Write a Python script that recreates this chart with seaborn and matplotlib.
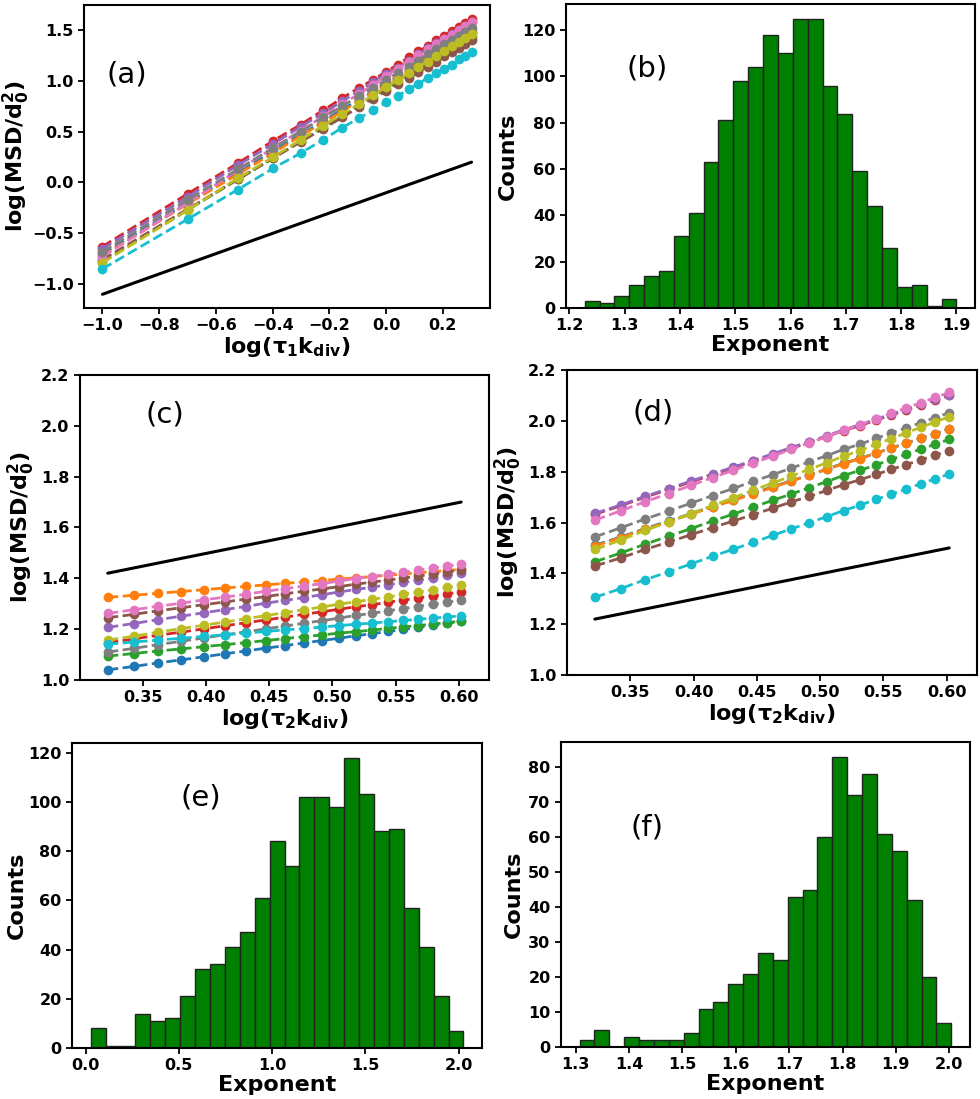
import numpy as np
import pandas as pd
import matplotlib
matplotlib.use("Agg")
import matplotlib.pyplot as plt
import seaborn as sns

# --- data ------------------------------------------------------------------
# delay times (tau * k_div) of the MSD curves
tau1 = [0.1, 0.2, 0.3, 0.4, 0.5, 0.6, 0.7, 0.8, 0.9, 1.0,
        1.1, 1.2, 1.3, 1.4, 1.5, 1.6, 1.7, 1.8, 1.9, 2.0]
tau2 = [2.1, 2.2, 2.3, 2.4, 2.5, 2.6, 2.7, 2.8, 2.9, 3.0,
        3.1, 3.2, 3.3, 3.4, 3.5, 3.6, 3.7, 3.8, 3.9, 4.0]

# panel (a): log(MSD/d0^2), one list per trajectory (tab10 order)
msd_a = [
    [-0.70, -0.20, 0.10, 0.31, 0.47, 0.60, 0.72, 0.81, 0.90, 0.98, 1.04, 1.11, 1.17, 1.22, 1.27, 1.32, 1.36, 1.40, 1.44, 1.48],
    [-0.72, -0.21, 0.08, 0.29, 0.46, 0.59, 0.70, 0.80, 0.89, 0.96, 1.03, 1.10, 1.16, 1.21, 1.26, 1.31, 1.35, 1.39, 1.43, 1.47],
    [-0.78, -0.27, 0.03, 0.24, 0.41, 0.54, 0.66, 0.75, 0.84, 0.92, 0.99, 1.05, 1.11, 1.17, 1.22, 1.26, 1.31, 1.35, 1.39, 1.43],
    [-0.63, -0.11, 0.19, 0.41, 0.57, 0.71, 0.83, 0.93, 1.01, 1.09, 1.16, 1.23, 1.29, 1.34, 1.40, 1.44, 1.49, 1.53, 1.57, 1.61],
    [-0.65, -0.14, 0.17, 0.38, 0.55, 0.68, 0.80, 0.90, 0.99, 1.07, 1.13, 1.20, 1.26, 1.32, 1.37, 1.41, 1.46, 1.50, 1.54, 1.58],
    [-0.76, -0.26, 0.03, 0.24, 0.40, 0.53, 0.64, 0.74, 0.82, 0.90, 0.97, 1.03, 1.09, 1.14, 1.19, 1.24, 1.28, 1.32, 1.36, 1.40],
    [-0.73, -0.20, 0.12, 0.34, 0.51, 0.65, 0.77, 0.87, 0.96, 1.05, 1.12, 1.19, 1.25, 1.31, 1.36, 1.41, 1.45, 1.50, 1.54, 1.58],
    [-0.68, -0.17, 0.13, 0.34, 0.50, 0.64, 0.75, 0.85, 0.93, 1.01, 1.08, 1.14, 1.20, 1.26, 1.31, 1.36, 1.40, 1.44, 1.48, 1.52],
    [-0.79, -0.27, 0.04, 0.25, 0.42, 0.56, 0.67, 0.77, 0.86, 0.94, 1.01, 1.08, 1.14, 1.19, 1.24, 1.29, 1.34, 1.38, 1.42, 1.46],
    [-0.85, -0.36, -0.07, 0.14, 0.29, 0.42, 0.54, 0.63, 0.71, 0.79, 0.85, 0.92, 0.97, 1.03, 1.08, 1.12, 1.16, 1.21, 1.24, 1.28],
]

# panel (c)
msd_c = [
    [1.040, 1.053, 1.067, 1.079, 1.091, 1.103, 1.114, 1.125, 1.135, 1.145, 1.155, 1.164, 1.174, 1.182, 1.191, 1.199, 1.207, 1.215, 1.223, 1.230],
    [1.325, 1.333, 1.341, 1.348, 1.355, 1.362, 1.368, 1.374, 1.380, 1.386, 1.391, 1.397, 1.402, 1.407, 1.412, 1.417, 1.422, 1.426, 1.431, 1.435],
    [1.094, 1.104, 1.114, 1.122, 1.131, 1.139, 1.147, 1.155, 1.163, 1.170, 1.177, 1.184, 1.190, 1.196, 1.203, 1.209, 1.214, 1.220, 1.226, 1.231],
    [1.147, 1.161, 1.176, 1.188, 1.201, 1.213, 1.225, 1.236, 1.247, 1.258, 1.268, 1.278, 1.288, 1.296, 1.306, 1.314, 1.323, 1.331, 1.339, 1.347],
    [1.207, 1.222, 1.237, 1.251, 1.264, 1.277, 1.289, 1.302, 1.313, 1.324, 1.335, 1.346, 1.356, 1.365, 1.375, 1.384, 1.393, 1.402, 1.411, 1.419],
    [1.245, 1.258, 1.272, 1.284, 1.296, 1.307, 1.318, 1.328, 1.339, 1.349, 1.358, 1.367, 1.377, 1.385, 1.393, 1.401, 1.409, 1.417, 1.425, 1.432],
    [1.262, 1.276, 1.290, 1.302, 1.315, 1.326, 1.337, 1.349, 1.359, 1.369, 1.379, 1.389, 1.399, 1.407, 1.416, 1.424, 1.433, 1.441, 1.448, 1.456],
    [1.110, 1.124, 1.139, 1.152, 1.165, 1.178, 1.189, 1.201, 1.212, 1.223, 1.233, 1.243, 1.254, 1.262, 1.272, 1.281, 1.289, 1.298, 1.306, 1.314],
    [1.157, 1.172, 1.188, 1.202, 1.215, 1.228, 1.241, 1.253, 1.265, 1.276, 1.287, 1.298, 1.308, 1.317, 1.327, 1.337, 1.346, 1.355, 1.364, 1.372],
    [1.141, 1.149, 1.157, 1.164, 1.171, 1.178, 1.184, 1.191, 1.197, 1.202, 1.208, 1.214, 1.219, 1.224, 1.229, 1.234, 1.239, 1.243, 1.248, 1.252],
]

# panel (d)
msd_d = [
    [1.511, 1.543, 1.576, 1.606, 1.635, 1.663, 1.689, 1.715, 1.740, 1.764, 1.787, 1.810, 1.833, 1.852, 1.873, 1.893, 1.913, 1.932, 1.950, 1.968],
    [1.508, 1.541, 1.574, 1.603, 1.633, 1.661, 1.687, 1.713, 1.738, 1.763, 1.786, 1.809, 1.832, 1.851, 1.873, 1.893, 1.912, 1.932, 1.950, 1.968],
    [1.446, 1.480, 1.515, 1.546, 1.576, 1.606, 1.633, 1.661, 1.687, 1.712, 1.737, 1.761, 1.785, 1.805, 1.827, 1.848, 1.869, 1.889, 1.908, 1.927],
    [1.633, 1.666, 1.700, 1.730, 1.760, 1.788, 1.815, 1.841, 1.867, 1.892, 1.915, 1.938, 1.962, 1.981, 2.003, 2.023, 2.043, 2.063, 2.082, 2.100],
    [1.636, 1.669, 1.703, 1.733, 1.763, 1.791, 1.818, 1.844, 1.870, 1.895, 1.918, 1.941, 1.965, 1.984, 2.006, 2.026, 2.046, 2.066, 2.085, 2.103],
    [1.429, 1.461, 1.494, 1.523, 1.552, 1.580, 1.606, 1.631, 1.656, 1.681, 1.703, 1.726, 1.749, 1.768, 1.789, 1.809, 1.828, 1.847, 1.865, 1.883],
    [1.610, 1.646, 1.682, 1.714, 1.746, 1.777, 1.805, 1.834, 1.861, 1.888, 1.913, 1.938, 1.963, 1.985, 2.008, 2.030, 2.051, 2.072, 2.092, 2.112],
    [1.544, 1.579, 1.614, 1.645, 1.676, 1.706, 1.734, 1.762, 1.788, 1.814, 1.839, 1.863, 1.888, 1.908, 1.931, 1.952, 1.973, 1.993, 2.013, 2.032],
    [1.494, 1.531, 1.569, 1.602, 1.635, 1.667, 1.697, 1.727, 1.755, 1.783, 1.809, 1.835, 1.861, 1.883, 1.908, 1.930, 1.953, 1.975, 1.996, 2.016],
    [1.306, 1.340, 1.375, 1.406, 1.437, 1.467, 1.495, 1.522, 1.549, 1.575, 1.599, 1.623, 1.647, 1.668, 1.691, 1.711, 1.732, 1.753, 1.772, 1.791],
]

# slope-1 guide lines (end points)
guide_a_x, guide_a_y = [-1.0, 0.301], [-1.10, 0.20]
guide_c_x, guide_c_y = [0.322, 0.602], [1.42, 1.70]
guide_d_x, guide_d_y = [0.322, 0.602], [1.22, 1.50]

# exponent histograms: bin range + counts
hist_b_range = (1.2277, 1.900)
hist_b_counts = [3, 2, 5, 10, 14, 16, 31, 41, 63, 81, 98, 104, 118, 110, 125,
                 125, 96, 84, 59, 44, 26, 9, 10, 1, 4]
hist_e_range = (0.027, 2.025)
hist_e_counts = [8, 1, 1, 14, 11, 12, 21, 32, 34, 41, 47, 61, 84, 74, 102,
                 102, 98, 118, 103, 88, 89, 57, 41, 21, 7]
hist_f_range = (1.307, 2.004)
hist_f_counts = [2, 5, 0, 3, 2, 2, 2, 4, 11, 13, 18, 21, 27, 25, 43,
                 45, 60, 83, 72, 78, 61, 56, 42, 20, 7]

# --- style ------------------------------------------------------------------
sns.set_style("ticks")
plt.rcParams["font.family"] = ["DejaVu Sans"]
plt.rcParams["font.weight"] = "bold"
plt.rcParams["axes.labelweight"] = "bold"
plt.rcParams["mathtext.fontset"] = "dejavusans"
plt.rcParams["mathtext.default"] = "bf"
plt.rcParams["axes.linewidth"] = 1.5
plt.rcParams["axes.edgecolor"] = "black"
plt.rcParams["axes.labelcolor"] = "black"
plt.rcParams["text.color"] = "black"
plt.rcParams["xtick.major.width"] = 1.3
plt.rcParams["ytick.major.width"] = 1.3
plt.rcParams["xtick.major.size"] = 4
plt.rcParams["ytick.major.size"] = 4
plt.rcParams["xtick.color"] = "black"
plt.rcParams["ytick.color"] = "black"

TICK = 11.5
LABEL = 16
PANEL = 21
palette = sns.color_palette("tab10", 10)

ylab_msd = r"log(MSD/d$_0^2$)"


def msd_panel(ax, taus, curves, gx, gy):
    xs = np.log10(taus)
    for i, ys in enumerate(curves):
        sns.lineplot(x=xs, y=ys, ax=ax, color=palette[i], marker="o",
                     markersize=7, markeredgewidth=0, linestyle="--",
                     linewidth=2, sort=False)
    sns.lineplot(x=gx, y=gy, ax=ax, color="black", linewidth=2.2, sort=False)
    ax.set_ylabel(ylab_msd, fontsize=LABEL, fontweight="bold")


def hist_panel(ax, rng, counts):
    nb = len(counts)
    width = (rng[1] - rng[0]) / nb
    df = pd.DataFrame({"exponent": rng[0] + width * (np.arange(nb) + 0.5),
                       "count": counts})
    sns.histplot(data=df, x="exponent", weights="count", bins=nb,
                 binrange=rng, ax=ax, color="green", edgecolor="#222222",
                 linewidth=1.0, alpha=1)
    ax.set_xlabel("Exponent", fontsize=LABEL, fontweight="bold")
    ax.set_ylabel("Counts", fontsize=LABEL, fontweight="bold")


fig = plt.figure(figsize=(9.8, 10.99), dpi=100)
ax_a = fig.add_axes([0.0857, 0.7197, 0.4143, 0.2757])
ax_b = fig.add_axes([0.5776, 0.7197, 0.4173, 0.2766])
ax_c = fig.add_axes([0.0816, 0.3813, 0.4173, 0.2775])
ax_d = fig.add_axes([0.5786, 0.3858, 0.4184, 0.2775])
ax_e = fig.add_axes([0.0735, 0.0464, 0.4184, 0.2775])
ax_f = fig.add_axes([0.5724, 0.0473, 0.4173, 0.2775])

# (a)
msd_panel(ax_a, tau1, msd_a, guide_a_x, guide_a_y)
ax_a.set_xticks([-1.0, -0.8, -0.6, -0.4, -0.2, 0.0, 0.2])
ax_a.set_yticks([-1.0, -0.5, 0.0, 0.5, 1.0, 1.5])
ax_a.set_xlabel(r"log($\tau_1$k$_{div}$)", fontsize=LABEL, fontweight="bold")

# (b)
hist_panel(ax_b, hist_b_range, hist_b_counts)
ax_b.set_xticks([1.2, 1.3, 1.4, 1.5, 1.6, 1.7, 1.8, 1.9])
ax_b.set_yticks([0, 20, 40, 60, 80, 100, 120])

# (c), (d)
for ax, curves, gy in [(ax_c, msd_c, guide_c_y), (ax_d, msd_d, guide_d_y)]:
    msd_panel(ax, tau2, curves, guide_c_x, gy)
    ax.set_xlim(0.300, 0.624)
    ax.set_ylim(1.0, 2.2)
    ax.set_xticks([0.35, 0.40, 0.45, 0.50, 0.55, 0.60])
    ax.set_yticks([1.0, 1.2, 1.4, 1.6, 1.8, 2.0, 2.2])
    ax.set_xlabel(r"log($\tau_2$k$_{div}$)", fontsize=LABEL, fontweight="bold")

# (e)
hist_panel(ax_e, hist_e_range, hist_e_counts)
ax_e.set_xticks([0.0, 0.5, 1.0, 1.5, 2.0])
ax_e.set_yticks([0, 20, 40, 60, 80, 100, 120])

# (f)
hist_panel(ax_f, hist_f_range, hist_f_counts)
ax_f.set_xticks([1.3, 1.4, 1.5, 1.6, 1.7, 1.8, 1.9, 2.0])
ax_f.set_yticks([0, 10, 20, 30, 40, 50, 60, 70, 80])

for ax in [ax_a, ax_b, ax_c, ax_d, ax_e, ax_f]:
    for s in ax.spines.values():
        s.set_visible(True)
        s.set_color("black")
    ax.tick_params(labelsize=TICK, colors="black")
    for lab in ax.get_xticklabels() + ax.get_yticklabels():
        lab.set_fontweight("bold")
    ax.xaxis.labelpad = 1
    ax.yaxis.labelpad = 3
ax_a.yaxis.labelpad = 0
ax_e.yaxis.labelpad = 1

labels = [(ax_a, "(a)", 0.106, 0.772), (ax_b, "(b)", 0.198, 0.789),
          (ax_c, "(c)", 0.208, 0.869), (ax_d, "(d)", 0.21, 0.862),
          (ax_e, "(e)", 0.315, 0.823), (ax_f, "(f)", 0.21, 0.721)]
for ax, txt, x, y in labels:
    ax.text(x, y, txt, transform=ax.transAxes, fontsize=PANEL,
            fontweight="normal", color="black", ha="center", va="center")

fig.savefig("out.png", dpi=100)
